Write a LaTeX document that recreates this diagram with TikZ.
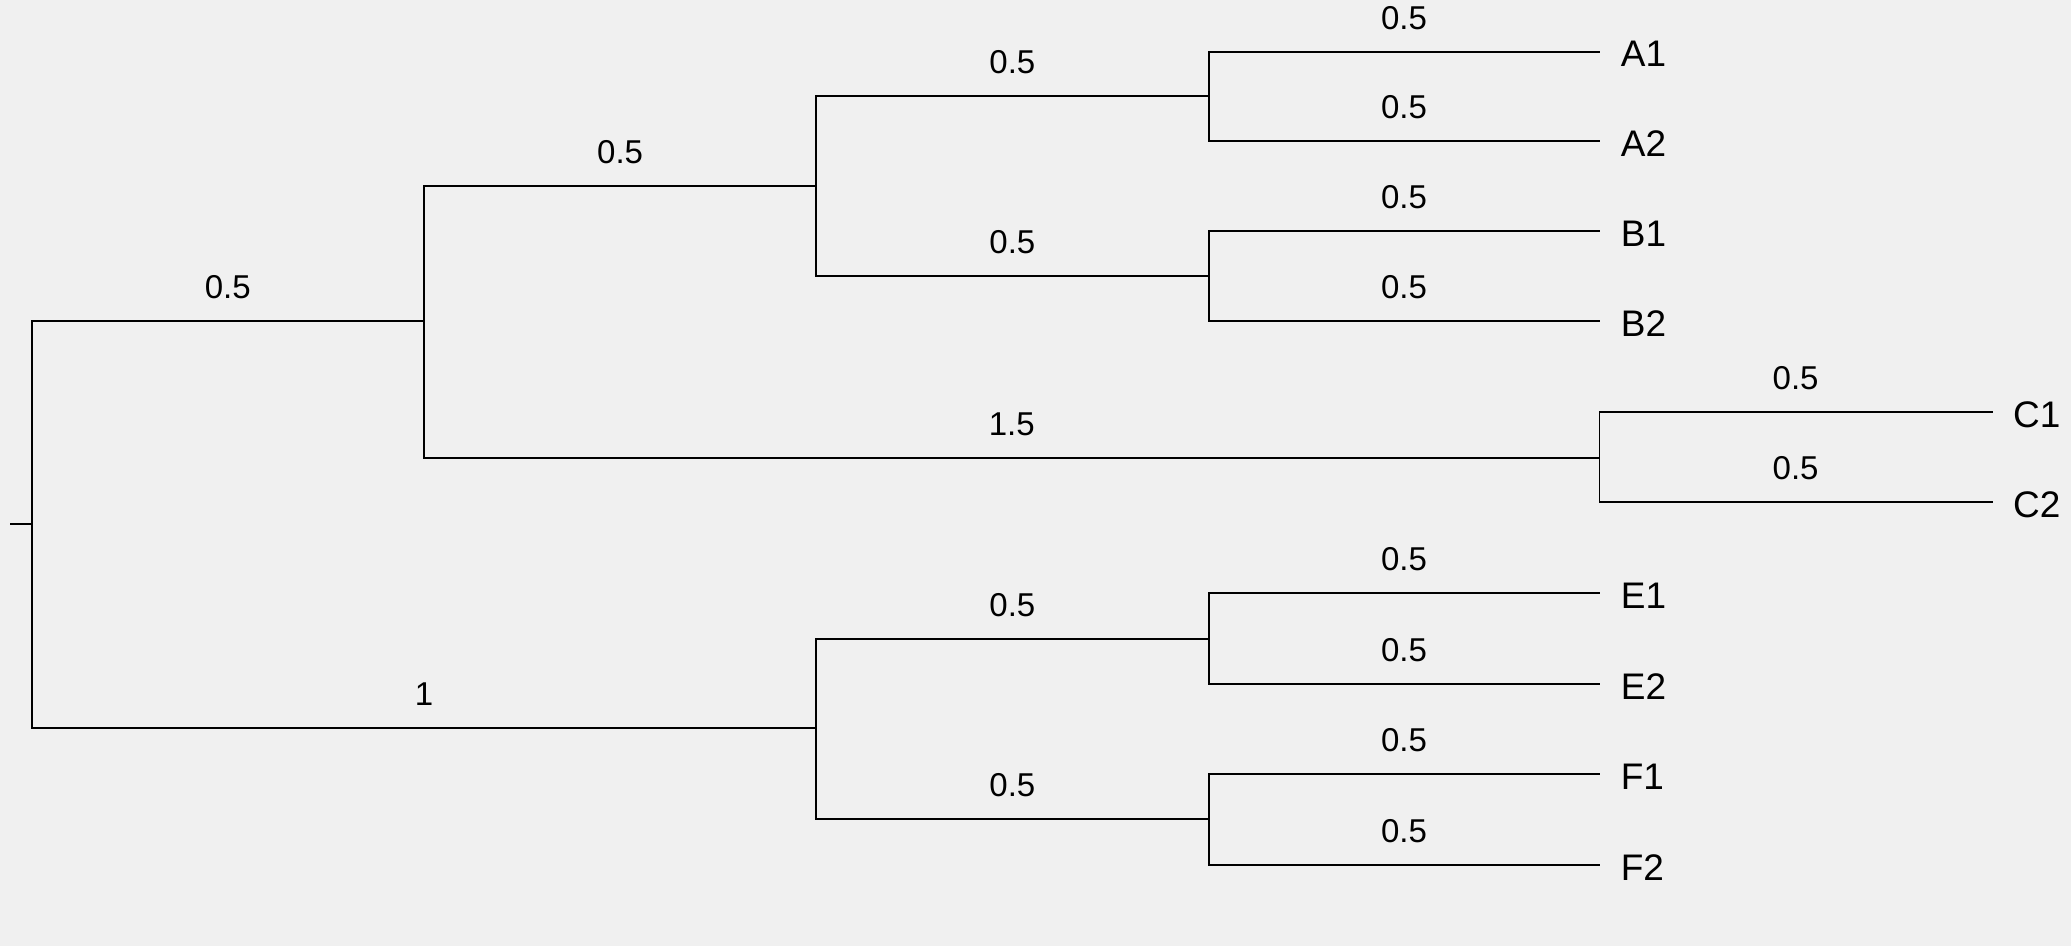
\documentclass[tikz,border=0pt]{standalone}
\usepackage{fontspec}
\setmainfont{Liberation Sans}
\usetikzlibrary{positioning}
\definecolor{paper}{HTML}{F0F0F0}
\tikzset{edge/.style = {line width=1.5pt, line cap=rect},
         blen/.style = {anchor=base, yshift=17pt, inner sep=0pt,
                        font=\fontsize{25}{30}\selectfont},
         leaf/.style = {anchor=west, xshift=16pt, yshift=-2pt, inner sep=0pt,
                        font=\fontsize{28}{32}\selectfont}}

\begin{document}
\begin{tikzpicture}[x=1pt, y=-1pt]
      \fill [paper] (0, 0) rectangle (1568, 716);
      % inner nodes
      \coordinate (stub) at (8, 397);
      \coordinate (root) at (24, 397);
      \coordinate (nX) at (321, 243);
      \coordinate (nAB) at (618, 141);
      \coordinate (nA) at (915, 73);
      \coordinate (nB) at (915, 209);
      \coordinate (nC) at (1211, 347);
      \coordinate (nEF) at (618, 551);
      \coordinate (nE) at (915, 484);
      \coordinate (nF) at (915, 620);
      % leaves
      \coordinate (a1) at (1211, 39);
      \coordinate (a2) at (1211, 107);
      \coordinate (b1) at (1211, 175);
      \coordinate (b2) at (1211, 243);
      \coordinate (c1) at (1508, 312);
      \coordinate (c2) at (1508, 380);
      \coordinate (e1) at (1211, 449);
      \coordinate (e2) at (1211, 518);
      \coordinate (f1) at (1211, 586);
      \coordinate (f2) at (1211, 655);
      \foreach \n/\t in {a1/A1, a2/A2, b1/B1, b2/B2, c1/C1, c2/C2, e1/E1, e2/E2, f1/F1, f2/F2}
        \node [leaf] (\t) at (\n) {\t};
      % branches
      \draw [edge] (stub) -- (root);
      \draw [edge] (root) |- node [blen, pos=.75] {0.5} (nX);
      \draw [edge] (root) |- node [blen, pos=.75] {1} (nEF);
      \draw [edge] (nX) |- node [blen, pos=.75] {0.5} (nAB);
      \draw [edge] (nX) |- node [blen, pos=.75] {1.5} (nC);
      \draw [edge] (nAB) |- node [blen, pos=.75] {0.5} (nA);
      \draw [edge] (nAB) |- node [blen, pos=.75] {0.5} (nB);
      \draw [edge] (nEF) |- node [blen, pos=.75] {0.5} (nE);
      \draw [edge] (nEF) |- node [blen, pos=.75] {0.5} (nF);
      \foreach \p/\c in {nA/a1, nA/a2, nB/b1, nB/b2, nC/c1, nC/c2, nE/e1, nE/e2, nF/f1, nF/f2}
        \draw [edge] (\p) |- node [blen, pos=.75] {0.5} (\c);
\end{tikzpicture}
\end{document}
